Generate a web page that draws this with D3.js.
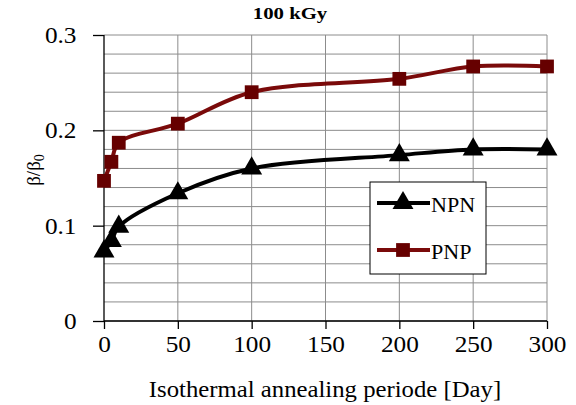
<!DOCTYPE html>
<html>
<head>
  <script src="https://d3js.org/d3.v7.min.js"></script>
  <style>
    body { margin: 0; background: #fff; }
    text { font-family: "Liberation Serif", "Times New Roman", serif; }
  </style>
</head>
<body>
  <div id="chart"></div>
  <script>
    const days = [0, 5, 10, 50, 100, 200, 250, 300];
    const npn = [0.073, 0.084, 0.099, 0.134, 0.160, 0.174, 0.180, 0.180];
    const pnp = [0.147, 0.167, 0.187, 0.207, 0.240, 0.254, 0.267, 0.267];
    const xTicks = [0, 50, 100, 150, 200, 250, 300];
    const yTicks = [0, 0.1, 0.2, 0.3];
    const yGrid = d3.range(0, 0.3001, 0.02);

    const width = 576, height = 405;
    const plotLeft = 104, plotRight = 547, plotTop = 35, plotBottom = 321;
    const stretch = "scale(1.1,1)"; // source picture is a bit wide

    const svg = d3.select("#chart").append("svg")
      .attr("width", width)
      .attr("height", height);

    const x = d3.scaleLinear().domain([0, 300]).range([plotLeft, plotRight]);
    const y = d3.scaleLinear().domain([0, 0.3]).range([plotBottom, plotTop]);

    // grid
    svg.append("g").selectAll("line")
      .data(yGrid)
      .enter().append("line")
      .attr("x1", plotLeft).attr("x2", plotRight)
      .attr("y1", d => y(d)).attr("y2", d => y(d))
      .attr("stroke", "#8c8c8c").attr("stroke-width", 1);

    svg.append("g").selectAll("line")
      .data(xTicks.slice(1))
      .enter().append("line")
      .attr("x1", d => x(d)).attr("x2", d => x(d))
      .attr("y1", plotTop).attr("y2", plotBottom)
      .attr("stroke", "#8c8c8c").attr("stroke-width", 1);

    // axes
    const xAxis = d3.axisBottom(x).tickValues(xTicks).tickSize(8).tickPadding(7).tickFormat(d3.format("d"));
    const yAxis = d3.axisLeft(y).tickValues(yTicks).tickSize(11).tickPadding(14).tickFormat(d => d === 0 ? "0" : d3.format(".1f")(d));

    const gx = svg.append("g").attr("transform", `translate(0,${plotBottom})`).call(xAxis);
    const gy = svg.append("g").attr("transform", `translate(${plotLeft},0)`).call(yAxis);
    [gx, gy].forEach(g => {
      g.select(".domain").remove();
      g.selectAll(".tick line").attr("stroke", "#000").attr("stroke-width", 1.3);
      g.selectAll("text").attr("fill", "#000").style("font-family", "Liberation Serif")
        .attr("transform", stretch);
    });
    gx.selectAll("text").style("font-size", "23px");
    gy.selectAll("text").style("font-size", "23px");

    svg.append("line")
      .attr("x1", plotLeft).attr("x2", plotLeft).attr("y1", plotTop).attr("y2", plotBottom)
      .attr("stroke", "#000").attr("stroke-width", 1.3);
    svg.append("line")
      .attr("x1", plotLeft).attr("x2", plotRight).attr("y1", plotBottom).attr("y2", plotBottom)
      .attr("stroke", "#000").attr("stroke-width", 1.3);

    // series
    const series = [
      { name: "NPN", values: npn, color: "#000000", marker: d3.symbolTriangle, size: 190 },
      { name: "PNP", values: pnp, color: "#7a0a0a", marker: d3.symbolSquare, fill: "#660000", size: 190 }
    ];

    const line = d3.line()
      .x((d, i) => x(days[i]))
      .y(d => y(d))
      .curve(d3.curveCatmullRom);

    series.forEach(s => {
      svg.append("path")
        .datum(s.values)
        .attr("d", line)
        .attr("fill", "none")
        .attr("stroke", s.color)
        .attr("stroke-width", 4);
    });

    series.forEach(s => {
      svg.append("g").selectAll("path")
        .data(s.values)
        .enter().append("path")
        .attr("d", d3.symbol().type(s.marker).size(s.size))
        .attr("transform", (d, i) => `translate(${x(days[i])},${y(d)})`)
        .attr("fill", s.fill || s.color);
    });

    // legend
    const legend = svg.append("g");
    legend.append("rect")
      .attr("x", 370).attr("y", 182).attr("width", 116).attr("height", 92)
      .attr("fill", "#fff").attr("stroke", "#000").attr("stroke-width", 1);
    series.forEach((s, i) => {
      const ly = 203 + i * 47;
      legend.append("line")
        .attr("x1", 377).attr("x2", 430).attr("y1", ly).attr("y2", ly)
        .attr("stroke", s.color).attr("stroke-width", 4);
      legend.append("path")
        .attr("d", d3.symbol().type(s.marker).size(s.size))
        .attr("transform", `translate(403,${ly})`)
        .attr("fill", s.fill || s.color);
      legend.append("text")
        .attr("transform", `translate(431,${ly + 9}) scale(1.05,1)`)
        .style("font-size", "21px")
        .text(s.name);
    });

    // title
    svg.append("text")
      .attr("transform", "translate(290,19) scale(1.3,1)")
      .attr("text-anchor", "middle")
      .style("font-size", "16px").style("font-weight", "bold")
      .text("100 kGy");

    // axis titles
    svg.append("text")
      .attr("transform", `translate(325,397) ${stretch}`)
      .attr("text-anchor", "middle")
      .style("font-size", "22.5px")
      .text("Isothermal annealing periode [Day]");

    const yl = svg.append("text")
      .attr("transform", "translate(40,170) rotate(-90)")
      .attr("text-anchor", "middle")
      .style("font-size", "19px");
    yl.append("tspan").text("β/β");
    yl.append("tspan").attr("dy", 4).style("font-size", "14px").text("0");
  </script>
</body>
</html>
